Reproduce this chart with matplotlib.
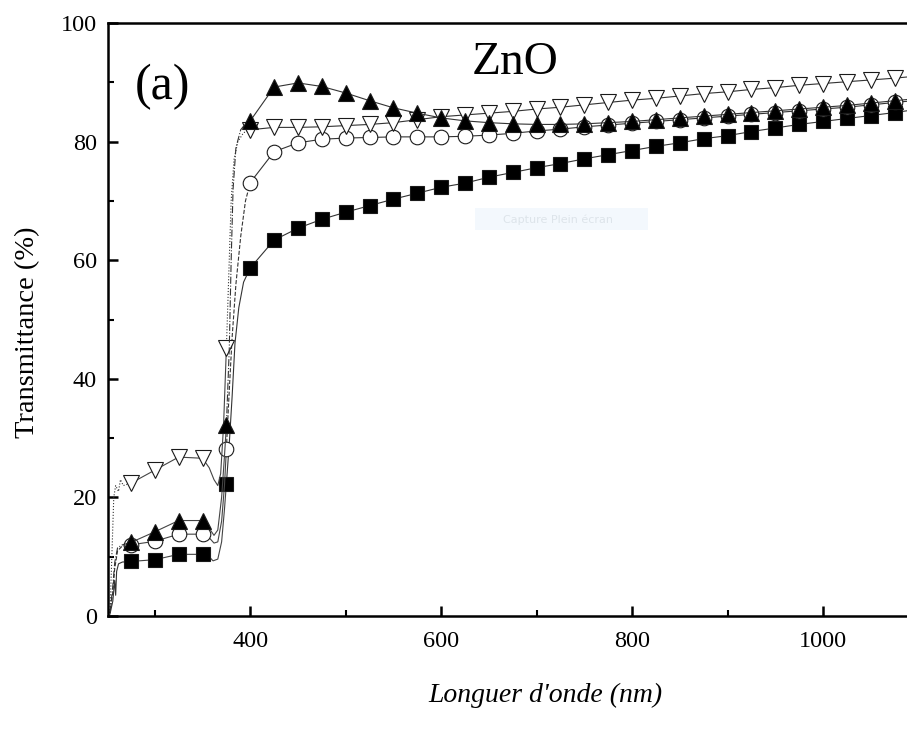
import numpy as np
import matplotlib
matplotlib.use("Agg")
import matplotlib.pyplot as plt
from matplotlib.patches import Rectangle
from matplotlib.ticker import MultipleLocator

plt.rcParams['font.family'] = ['Liberation Serif', 'DejaVu Serif']

# wavelengths where a symbol is drawn (nm)
wl_sym = [275, 300, 325, 350, 375, 400, 425, 450, 475, 500, 525, 550, 575,
          600, 625, 650, 675, 700, 725, 750, 775, 800, 825, 850, 875, 900,
          925, 950, 975, 1000, 1025, 1050, 1075]

# transmittance (%) at the symbols
t_square = [9.2, 9.5, 10.4, 10.4, 22.3, 58.7, 63.4, 65.4, 66.9, 68.1, 69.2,
            70.3, 71.3, 72.3, 73.0, 74.0, 74.8, 75.6, 76.3, 77.1, 77.8, 78.5,
            79.2, 79.8, 80.5, 81.0, 81.7, 82.3, 82.9, 83.4, 83.9, 84.4, 84.9]
t_circle = [12.0, 12.6, 13.8, 13.8, 28.2, 73.1, 78.3, 79.8, 80.4, 80.6, 80.7,
            80.8, 80.8, 80.8, 80.9, 81.1, 81.4, 81.8, 82.1, 82.5, 82.8, 83.1,
            83.4, 83.7, 84.0, 84.3, 84.6, 84.9, 85.2, 85.5, 85.8, 86.2, 86.6]
t_tri_up = [12.4, 14.2, 16.1, 16.1, 32.2, 83.5, 89.2, 89.9, 89.3, 88.2, 86.9,
            85.7, 84.8, 84.0, 83.5, 83.2, 83.0, 82.9, 82.9, 83.0, 83.2, 83.4,
            83.7, 84.0, 84.3, 84.6, 84.9, 85.2, 85.5, 85.8, 86.1, 86.5, 86.9]
t_tri_down = [22.4, 24.6, 26.8, 26.6, 45.2, 82.0, 82.4, 82.4, 82.5, 82.7, 82.9,
              83.2, 83.7, 84.2, 84.5, 84.8, 85.1, 85.5, 85.8, 86.2, 86.6, 87.0,
              87.3, 87.7, 88.1, 88.4, 88.8, 89.1, 89.5, 89.8, 90.1, 90.4, 90.7]

# extra spectrum points: absorption cut-off near 255 nm, dip before the gap edge,
# steep rise of the band edge, and the tail past the last symbol
sq_left_x = [253, 256, 258, 259, 260, 262, 266]
sq_left_y = [0.3, 2.5, 6.0, 3.5, 7.5, 8.8, 9.1]
sq_dip_x = [357, 361, 366, 370, 373]
sq_dip_y = [10.0, 9.3, 9.6, 12.5, 18.0]
sq_rise_x = [378, 381, 384, 388, 393]
sq_rise_y = [29.0, 37.0, 46.0, 52.0, 56.3]

ci_left_x = [253, 256, 258, 261, 266]
ci_left_y = [0.5, 4.0, 8.0, 11.0, 11.8]
ci_dip_x = [357, 362, 366, 370, 373]
ci_dip_y = [13.2, 12.3, 12.5, 16.0, 22.0]
ci_rise_x = [378, 381, 385, 390, 395]
ci_rise_y = [38.0, 47.0, 56.0, 64.0, 70.0]

tu_left_x = [253, 256, 258, 261, 266]
tu_left_y = [0.5, 5.0, 9.0, 11.5, 12.0]
tu_dip_x = [357, 362, 366, 370, 373]
tu_dip_y = [14.8, 13.6, 14.5, 20.0, 27.0]
tu_rise_x = [378, 380, 382, 385, 390, 395]
tu_rise_y = [45.0, 60.0, 72.0, 79.0, 82.0, 83.0]

td_left_x = [253, 255, 257, 259, 262, 264, 267]
td_left_y = [0.5, 10.0, 20.0, 22.0, 21.0, 23.0, 22.0]
td_dip_x = [357, 362, 366, 369, 372]
td_dip_y = [25.0, 23.0, 22.0, 24.0, 32.0]
td_rise_x = [378, 380, 383, 387, 393]
td_rise_y = [60.0, 70.0, 77.0, 80.0, 81.5]

tail_x = 1088
tail_sq, tail_ci, tail_tu, tail_td = 85.2, 86.8, 87.1, 90.9


def draw_series(ax, left_x, left_y, dip_x, dip_y, rise_x, rise_y, t_sym, tail,
                edge_style, marker, face, ms):
    w = wl_sym
    # cut-off at short wavelengths
    ax.plot(left_x + [w[0]], left_y + [t_sym[0]], color='#333333', lw=0.8,
            ls=edge_style)
    # first plateau, dip, and the lower part of the edge
    ax.plot(w[:4] + dip_x + [w[4]], t_sym[:4] + dip_y + [t_sym[4]],
            color='#444444', lw=0.8)
    # band edge
    ax.plot([w[4]] + rise_x + [w[5]], [t_sym[4]] + rise_y + [t_sym[5]],
            color='#333333', lw=0.8, ls=edge_style)
    # visible / near IR part
    ax.plot(w[5:] + [tail_x], t_sym[5:] + [tail], color='#333333', lw=0.8)
    ax.plot(w, t_sym, ls='none', marker=marker, ms=ms, mfc=face,
            mec='#1a1a1a', mew=0.8)


fig = plt.figure(figsize=(9.07, 7.38), dpi=100)
ax = fig.add_axes([0.1191, 0.1653, 0.8809, 0.8035])

draw_series(ax, sq_left_x, sq_left_y, sq_dip_x, sq_dip_y, sq_rise_x, sq_rise_y,
            t_square, tail_sq, '-', 's', 'black', 10)
draw_series(ax, ci_left_x, ci_left_y, ci_dip_x, ci_dip_y, ci_rise_x, ci_rise_y,
            t_circle, tail_ci, '--', 'o', 'white', 10.5)
draw_series(ax, td_left_x, td_left_y, td_dip_x, td_dip_y, td_rise_x, td_rise_y,
            t_tri_down, tail_td, ':', 'v', 'white', 11)
draw_series(ax, tu_left_x, tu_left_y, tu_dip_x, tu_dip_y, tu_rise_x, tu_rise_y,
            t_tri_up, tail_tu, '-.', '^', 'black', 11)

ax.set_xlim(251, 1088)
ax.set_ylim(0, 100)
ax.xaxis.set_major_locator(MultipleLocator(200))
ax.xaxis.set_minor_locator(MultipleLocator(100))
ax.yaxis.set_major_locator(MultipleLocator(20))
ax.yaxis.set_minor_locator(MultipleLocator(10))
ax.tick_params(which='both', direction='in', top=False, right=False,
               labelsize=17.5, width=1.8)
ax.tick_params(which='major', length=7, pad=8)
ax.tick_params(axis='x', which='major', pad=11)
ax.tick_params(which='minor', length=4, width=1.5)
for side in ('left', 'bottom', 'top'):
    ax.spines[side].set_linewidth(1.8)
ax.spines['right'].set_visible(False)

ax.set_xlabel("Longuer d'onde (nm)", fontsize=20, style='italic')
ax.xaxis.set_label_coords(0.547, -0.113)
ax.set_ylabel('Transmittance (%)', fontsize=20.5)
ax.yaxis.set_label_coords(-0.085, 0.479)

ax.text(279, 87.2, '(a)', fontsize=36)
ax.text(632, 91.4, 'ZnO', fontsize=34)

# screen-capture tooltip left on the figure
ax.add_patch(Rectangle((0.459, 0.651), 0.217, 0.037, transform=ax.transAxes,
                       facecolor='#f3f8fd', edgecolor='none', zorder=0))
ax.text(0.494, 0.669, 'Capture Plein écran', transform=ax.transAxes,
        fontsize=8, color='#dde4ea', va='center', family='DejaVu Sans',
        zorder=0)

fig.savefig('out.png', dpi=100)
